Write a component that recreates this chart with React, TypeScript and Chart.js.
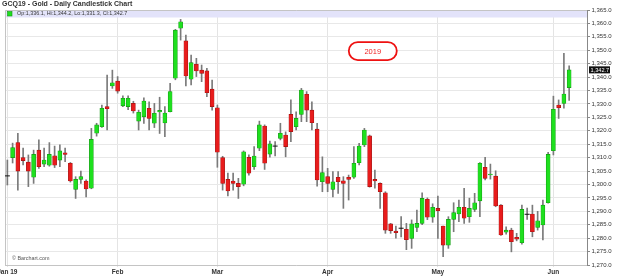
import React, { useEffect, useRef } from "react";
import { Chart, registerables } from "chart.js";
Chart.register(...registerables);

const chartTitle = "GCQ19 - Gold - Daily Candlestick Chart";
const annotationText = "2019";
const creditText = "© Barchart.com";

const opens = [
  1303.2, 1310.0, 1315.6, 1310.0, 1308.3, 1302.7, 1312.8, 1307.6, 1307.2, 1310.7,
  1309.1, 1311.8, 1307.9, 1298.2, 1301.9, 1301.3, 1298.6, 1319.1, 1321.5, 1329.0,
  1336.7, 1338.5, 1329.3, 1329.0, 1330.2, 1323.6, 1325.2, 1328.4, 1322.8, 1327.0,
  1322.9, 1327.1, 1339.6, 1358.2, 1353.5, 1339.2, 1344.8, 1342.6, 1342.3, 1335.5,
  1328.6, 1310.0, 1301.9, 1301.3, 1300.4, 1300.1, 1310.1, 1306.6, 1313.5, 1321.8,
  1311.3, 1314.3, 1317.2, 1318.4, 1326.1, 1321.5, 1326.1, 1333.6, 1327.7, 1320.6,
  1301.0, 1302.9, 1298.2, 1302.7, 1301.4, 1302.7, 1302.7, 1308.1, 1314.7, 1318.1,
  1301.9, 1300.4, 1296.9, 1285.3, 1282.6, 1283.7, 1283.3, 1279.9, 1284.0, 1285.5,
  1294.5, 1287.8, 1291.1, 1284.5, 1277.4, 1287.0, 1289.0, 1291.5, 1288.0, 1290.7,
  1293.9, 1306.4, 1303.6, 1303.1, 1292.3, 1282.2, 1283.0, 1280.3, 1278.3, 1288.9,
  1289.0, 1284.0, 1284.9, 1293.2, 1312.6, 1329.6, 1330.2, 1336.1,
];
const highs = [
  1309.1, 1315.4, 1319.1, 1313.6, 1311.0, 1312.8, 1316.6, 1313.6, 1315.6, 1314.3,
  1314.8, 1313.6, 1308.2, 1302.9, 1305.0, 1301.7, 1320.9, 1322.8, 1329.6, 1340.8,
  1342.6, 1340.2, 1333.0, 1333.0, 1331.0, 1327.7, 1332.3, 1330.8, 1330.2, 1332.5,
  1329.0, 1337.7, 1357.8, 1361.5, 1355.7, 1348.2, 1347.0, 1344.5, 1343.3, 1338.9,
  1329.6, 1310.5, 1304.2, 1304.2, 1302.3, 1312.5, 1311.0, 1314.1, 1323.6, 1322.2,
  1316.2, 1316.0, 1322.8, 1319.6, 1331.5, 1327.1, 1335.8, 1334.6, 1330.8, 1322.8,
  1310.3, 1306.0, 1304.8, 1304.8, 1302.9, 1303.5, 1314.1, 1315.3, 1320.9, 1318.4,
  1305.4, 1300.6, 1297.3, 1285.5, 1284.5, 1288.0, 1285.5, 1286.8, 1290.5, 1296.9,
  1295.0, 1292.8, 1295.7, 1284.5, 1288.0, 1293.2, 1294.2, 1298.6, 1294.9, 1296.7,
  1308.2, 1310.1, 1307.6, 1305.1, 1292.5, 1284.2, 1283.7, 1281.8, 1292.3, 1291.2,
  1292.3, 1290.0, 1294.2, 1312.0, 1332.9, 1331.5, 1348.9, 1344.2,
];
const lows = [
  1299.8, 1308.0, 1297.9, 1307.3, 1299.2, 1300.4, 1306.0, 1306.6, 1306.8, 1306.3,
  1306.6, 1308.5, 1300.9, 1294.8, 1300.4, 1295.4, 1298.4, 1318.0, 1321.3, 1320.3,
  1335.8, 1334.0, 1329.0, 1327.9, 1326.6, 1320.3, 1322.7, 1320.3, 1321.2, 1319.0,
  1317.8, 1327.0, 1339.0, 1353.8, 1336.7, 1337.1, 1340.2, 1338.3, 1332.7, 1327.7,
  1306.4, 1297.9, 1295.7, 1297.9, 1294.8, 1299.5, 1303.5, 1305.6, 1312.6, 1305.6,
  1310.2, 1310.6, 1316.6, 1310.3, 1315.9, 1320.3, 1323.4, 1323.4, 1320.3, 1299.4,
  1297.3, 1297.3, 1295.4, 1296.7, 1291.1, 1294.2, 1302.3, 1307.3, 1314.1, 1299.0,
  1298.6, 1291.1, 1281.8, 1281.8, 1280.0, 1280.5, 1275.7, 1276.2, 1282.4, 1285.0,
  1286.9, 1285.9, 1279.9, 1273.1, 1276.2, 1282.4, 1286.1, 1285.5, 1285.9, 1289.9,
  1288.0, 1301.7, 1302.0, 1291.7, 1281.0, 1281.5, 1274.9, 1279.0, 1277.8, 1287.0,
  1280.5, 1283.0, 1279.3, 1293.0, 1311.0, 1324.6, 1328.4, 1331.3,
];
const closes = [
  1303.2, 1313.7, 1305.0, 1308.9, 1305.0, 1311.2, 1306.6, 1309.1, 1311.2, 1307.2,
  1312.5, 1311.2, 1301.3, 1301.9, 1302.9, 1298.3, 1316.8, 1322.2, 1328.4, 1328.2,
  1337.9, 1334.8, 1332.1, 1332.1, 1327.4, 1326.9, 1331.1, 1324.6, 1326.5, 1327.6,
  1326.6, 1334.6, 1357.5, 1360.6, 1340.4, 1345.4, 1342.3, 1341.4, 1334.2, 1329.0,
  1312.0, 1300.4, 1297.6, 1300.4, 1299.2, 1312.2, 1304.2, 1310.6, 1322.2, 1307.9,
  1315.1, 1314.3, 1319.1, 1314.1, 1319.7, 1324.6, 1335.2, 1327.7, 1323.0, 1301.7,
  1304.4, 1300.4, 1301.0, 1301.0, 1300.4, 1301.9, 1307.9, 1314.3, 1320.3, 1299.2,
  1301.3, 1297.3, 1283.0, 1282.8, 1282.0, 1283.7, 1279.4, 1285.3, 1285.5, 1294.8,
  1287.8, 1291.5, 1290.2, 1277.4, 1287.0, 1289.5, 1291.5, 1287.4, 1291.1, 1293.2,
  1307.9, 1302.3, 1303.9, 1292.0, 1281.2, 1283.0, 1278.7, 1279.6, 1290.7, 1288.9,
  1282.4, 1286.5, 1292.3, 1311.2, 1328.0, 1328.6, 1333.7, 1342.7,
];

const monthTickIndex = [0, 21, 40, 61, 82, 104];
const monthTickLabels = ["Jan 19", "Feb", "Mar", "Apr", "May", "Jun"];
const yMin = 1270;
const yMax = 1365;
const yStep = 5;

const UP = "#1ee01e";
const DOWN = "#e81c1c";
const fmt = (v: number) =>
  v.toLocaleString("en-US", { minimumFractionDigits: 1, maximumFractionDigits: 1 });

export default function App() {
  const ref = useRef<HTMLCanvasElement | null>(null);
  useEffect(() => {
    const canvas = ref.current!;
    const n = closes.length;
    const wickData = closes.map((_, i) => ({ x: i, y: [lows[i], highs[i]] }));
    const bodyData = closes.map((c, i) => ({
      x: i,
      y: opens[i] === c ? null : [Math.min(opens[i], c), Math.max(opens[i], c)],
    }));
    const bodyColors = closes.map((c, i) => (c >= opens[i] ? UP : DOWN));
    const bodyBorders = closes.map((c, i) => (c >= opens[i] ? "#139613" : "#a01010"));
    const dojiData = closes
      .map((c, i) => ({ x: i, y: c, d: opens[i] === c }))
      .filter((p) => p.d)
      .map((p) => ({ x: p.x, y: p.y }));

    const last = n - 1;

    const decor = {
      id: "decor",
      beforeDatasetsDraw(chart: any) {
        const { ctx, chartArea: a } = chart;
        ctx.save();
        ctx.fillStyle = "#e3e3fa";
        ctx.fillRect(a.left, a.top, a.right - a.left, 7.5);
        ctx.strokeStyle = "#c4c4c4";
        ctx.lineWidth = 1;
        ctx.beginPath();
        ctx.moveTo(a.left + 0.5, a.bottom);
        ctx.lineTo(a.left + 0.5, a.top + 0.5);
        ctx.lineTo(a.right, a.top + 0.5);
        ctx.stroke();
        ctx.restore();
      },
      afterDraw(chart: any) {
        const { ctx, chartArea: a, scales } = chart;
        ctx.save();
        // title
        ctx.fillStyle = "#333";
        ctx.font = "bold 7px 'Liberation Sans', Arial, sans-serif";
        ctx.textBaseline = "middle";
        ctx.textAlign = "left";
        ctx.fillText(chartTitle, 2, 4.5);
        // legend in band
        ctx.fillStyle = UP;
        ctx.fillRect(a.left + 2.5, a.top + 1.5, 4.5, 4.5);
        ctx.strokeStyle = "#139613";
        ctx.lineWidth = 0.6;
        ctx.strokeRect(a.left + 2.5, a.top + 1.5, 4.5, 4.5);
        ctx.fillStyle = "#333";
        ctx.font = "5.4px 'Liberation Sans', Arial, sans-serif";
        const legend = `Op:${fmt(opens[last])}, Hi:${fmt(highs[last])}, Lo:${fmt(lows[last])}, Cl:${fmt(closes[last])}`;
        ctx.fillText(legend, a.left + 12, a.top + 4);
        // annotation
        const cx = scales.x.getPixelForValue(69.6);
        const cy = scales.y.getPixelForValue(1349.7);
        const w = 48, h = 18, r = 9;
        ctx.beginPath();
        ctx.roundRect(cx - w / 2, cy - h / 2, w, h, r);
        ctx.fillStyle = "#fff";
        ctx.fill();
        ctx.strokeStyle = "#ee1111";
        ctx.lineWidth = 1.8;
        ctx.stroke();
        ctx.fillStyle = "#ee2222";
        ctx.font = "7.5px 'Liberation Sans', Arial, sans-serif";
        ctx.textAlign = "center";
        ctx.fillText(annotationText, cx, cy + 0.5);
        // credit
        ctx.textAlign = "left";
        ctx.fillStyle = "#555";
        ctx.font = "5.4px 'Liberation Sans', Arial, sans-serif";
        ctx.fillText(creditText, a.left + 7, a.bottom - 6);
        // last price tag
        const py = scales.y.getPixelForValue(closes[last]);
        ctx.fillStyle = "#111";
        ctx.fillRect(a.right + 2, py - 3.5, 21, 7);
        ctx.fillStyle = "#fff";
        ctx.font = "5.6px 'Liberation Sans', Arial, sans-serif";
        ctx.fillText(fmt(closes[last]), a.right + 3.5, py + 0.3);
        ctx.restore();
      },
    };

    const chart = new Chart(canvas, {
      type: "bar",
      data: {
        datasets: [
          {
            type: "scatter" as any,
            data: dojiData,
            pointStyle: "line",
            radius: 2.5,
            borderColor: "#111",
            borderWidth: 1,
            order: 0,
          } as any,
          {
            data: bodyData as any,
            backgroundColor: bodyColors,
            borderColor: bodyBorders,
            borderWidth: 0.6,
            borderSkipped: false,
            barThickness: 4,
            grouped: false,
            order: 1,
          },
          {
            data: wickData as any,
            backgroundColor: "#7a7a7a",
            barThickness: 1,
            grouped: false,
            order: 2,
          },
        ],
      },
      plugins: [decor],
      options: {
        animation: false,
        responsive: false,
        devicePixelRatio: 1,
        layout: { padding: { left: 3, top: 10, right: 0, bottom: 0 } },
        plugins: { legend: { display: false }, tooltip: { enabled: false } },
        scales: {
          x: {
            type: "linear",
            min: -0.45,
            max: 110.4,
            offset: false,
            grid: { color: "#e4e4e4", offset: false, tickLength: 2 },
            border: { color: "#c4c4c4" },
            afterBuildTicks: (s: any) => {
              s.ticks = monthTickIndex.map((v) => ({ value: v }));
            },
            afterFit: (s: any) => {
              s.height = 15;
              s.paddingLeft = 0;
              s.paddingRight = 0;
            },
            ticks: {
              autoSkip: false,
              maxRotation: 0,
              padding: 1,
              color: "#333",
              font: { family: "'Liberation Sans', Arial, sans-serif", size: 6.5, weight: "bold" },
              callback: (_v: any, i: number) => monthTickLabels[i],
            },
          },
          y: {
            position: "right",
            min: yMin,
            max: yMax,
            grid: { color: "#e8e8e8", tickLength: 3, tickColor: "#888" },
            border: { color: "#888" },
            afterFit: (s: any) => {
              s.width = 37;
              s.paddingTop = 0;
              s.paddingBottom = 0;
            },
            ticks: {
              stepSize: yStep,
              padding: 1.5,
              color: "#333",
              font: { family: "'Liberation Sans', Arial, sans-serif", size: 6 },
              callback: (v: any) => fmt(Number(v)),
            },
          },
        },
      } as any,
    });
    return () => chart.destroy();
  }, []);

  return (
    <div style={{ position: "fixed", left: 0, top: 0, width: 624, height: 280, background: "#fff" }}>
      <canvas ref={ref} width={624} height={280} />
    </div>
  );
}
